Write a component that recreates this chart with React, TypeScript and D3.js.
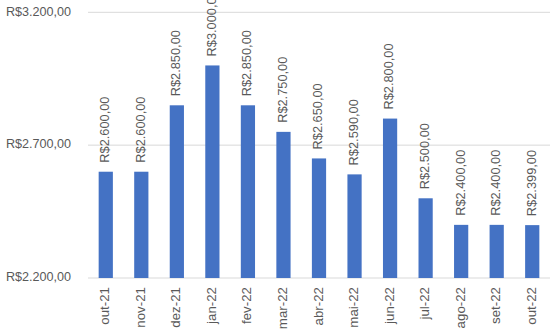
import React from "react";
import * as d3 from "d3";

const categories = ["out-21","nov-21","dez-21","jan-22","fev-22","mar-22","abr-22","mai-22","jun-22","jul-22","ago-22","set-22","out-22"];
const values = [2600, 2600, 2850, 3000, 2850, 2750, 2650, 2590, 2800, 2500, 2400, 2400, 2399];
const yTicks = [2200, 2700, 3200];

const W = 557, H = 334;
const left = 88, right = 550, top = 12.3, bottom = 278;

const fmt = (v: number) => {
  const s = v.toFixed(2).split(".");
  const int = s[0].replace(/\B(?=(\d{3})+(?!\d))/g, ".");
  return "R$" + int + "," + s[1];
};

export default function App() {
  const x = d3.scaleBand().domain(categories).range([left, right]).paddingInner(0.6).paddingOuter(0.3);
  const y = d3.scaleLinear().domain([2200, 3200]).range([bottom, top]);
  const font = "'Liberation Sans', Arial, sans-serif";
  const col = "#595959";
  return (
    <svg width={W} height={H} style={{ position: "absolute", left: 0, top: 0, background: "#fff" }} fontFamily={font}>
      {yTicks.map((t) => (
        <g key={t}>
          <line x1={left} x2={right} y1={y(t)} y2={y(t)} stroke="#d9d9d9" strokeWidth={1} />
          <text x={71} y={y(t)} textAnchor="end" dominantBaseline="middle" fontSize={12.6} fill={col}>{fmt(t)}</text>
        </g>
      ))}
      {categories.map((c, i) => {
        const cx = (x(c) as number) + x.bandwidth() / 2;
        const yt = y(values[i]);
        return (
          <g key={c}>
            <rect x={x(c)} y={yt} width={x.bandwidth()} height={bottom - yt} fill="#4472c4" />
            <text transform={`translate(${cx},${yt - 9}) rotate(-90)`} textAnchor="start" dominantBaseline="middle" fontSize={12.8} fill={col}>{fmt(values[i])}</text>
            <text transform={`translate(${cx},${bottom + 9}) rotate(-90)`} textAnchor="end" dominantBaseline="middle" fontSize={13.3} fill={col}>{c}</text>
          </g>
        );
      })}
    </svg>
  );
}
